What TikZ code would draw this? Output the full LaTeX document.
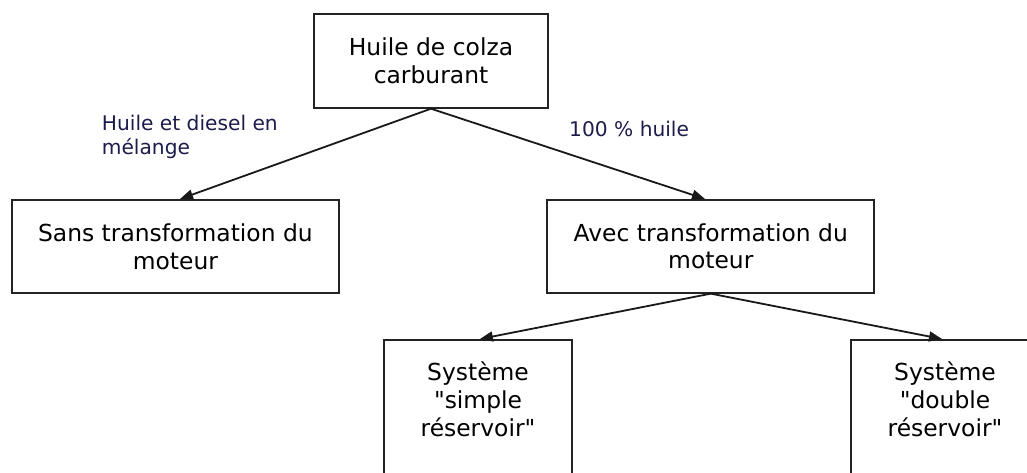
\documentclass[tikz,border=0pt]{standalone}
\usepackage{fontspec}
\setmainfont{DejaVu Sans}
\usetikzlibrary{arrows.meta,calc}
\definecolor{boxline}{RGB}{35,35,35}
\definecolor{labelcol}{RGB}{28,28,75}
\tikzset{
  boxnode/.style={draw=boxline, line width=2pt, rectangle, inner sep=0pt, align=center,
    font=\fontsize{23.4}{27.7}\selectfont},
  boxtext/.style={inner sep=0pt, align=center, font=\fontsize{23.4}{27.7}\selectfont},
  lbl/.style={inner sep=0pt, align=left, text=labelcol, font=\fontsize{20.2}{24}\selectfont},
  conn/.style={draw=black!90, line width=1.8pt, -{Triangle[length=13pt,width=10pt]}}
}
\begin{document}
\begin{tikzpicture}[x=1pt,y=-1pt]
\useasboundingbox (0,0) rectangle (1027,473);
\node[boxnode, minimum width=234pt, minimum height=93.4pt] (top) at (431,61) {Huile de colza\\carburant};
\node[boxnode, minimum width=327pt, minimum height=93pt] (sans) at (175.4,246.5) {Sans transformation du\\moteur};
\node[boxnode, minimum width=327pt, minimum height=92.7pt] (avec) at (710.8,246.3) {Avec transformation du\\moteur};
\node[boxnode, minimum width=187.7pt, minimum height=200pt, anchor=north] (simple) at (477.9,339) {};
\node[boxnode, minimum width=188pt, minimum height=200pt, anchor=north] (double) at (945,339) {};
\node[boxtext, anchor=base] (simpletxt) at (478,436) {Système\\\textquotedbl simple\\réservoir\textquotedbl};
\node[boxtext, anchor=base] (doubletxt) at (945,436) {Système\\\textquotedbl double\\réservoir\textquotedbl};
\node[lbl, anchor=base west] (l1) at (101.7,155) {Huile et diesel en\\mélange};
\node[lbl, anchor=base west] (l2) at (569,136.7) {100 \% huile};
\draw[conn] (top.south) -- ($(sans.north)+(4.6,0)$);
\draw[conn] (top.south) -- ($(avec.north)+(-5.8,0)$);
\draw[conn] (avec.south) -- ($(simple.north)+(2,0)$);
\draw[conn] (avec.south) -- ($(double.north)+(-3,0)$);
\end{tikzpicture}
\end{document}
